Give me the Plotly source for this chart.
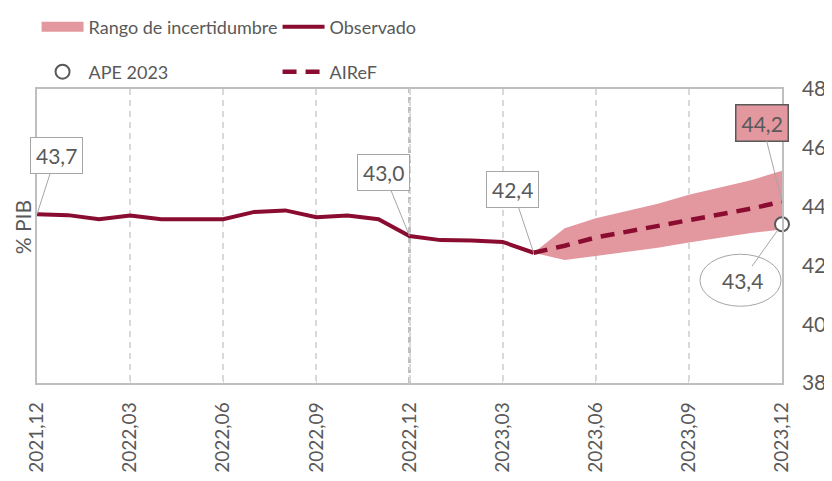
import plotly.graph_objects as go

months = ["2021,12", "2022,01", "2022,02", "2022,03", "2022,04", "2022,05", "2022,06",
          "2022,07", "2022,08", "2022,09", "2022,10", "2022,11", "2022,12",
          "2023,01", "2023,02", "2023,03", "2023,04", "2023,05", "2023,06",
          "2023,07", "2023,08", "2023,09", "2023,10", "2023,11", "2023,12"]
tick_months = ["2021,12", "2022,03", "2022,06", "2022,09", "2022,12",
               "2023,03", "2023,06", "2023,09", "2023,12"]

observado = [43.74, 43.71, 43.57, 43.70, 43.57, 43.57, 43.57, 43.82, 43.87, 43.64,
             43.70, 43.57, 43.00, 42.86, 42.85, 42.80, 42.43]
airef = [42.43, 42.67, 42.95, 43.15, 43.35, 43.52, 43.74, 43.93, 44.17]
banda_sup = [42.43, 43.26, 43.60, 43.85, 44.10, 44.40, 44.65, 44.90, 45.22]
banda_inf = [42.43, 42.18, 42.32, 42.45, 42.60, 42.78, 42.95, 43.10, 43.22]
ape_2023 = [43.4]

yticks = [38, 40, 42, 44, 46, 48]

obs_x = months[:len(observado)]
fc_x = months[len(observado) - 1:]

DARK = "#8A0C30"
PINK = "#E3979F"
GREY = "#595959"
FONT = "Lato"

fig = go.Figure()

fig.add_trace(go.Scatter(
    x=fc_x + fc_x[::-1], y=banda_sup + banda_inf[::-1],
    fill="toself", fillcolor=PINK, line=dict(width=0), mode="lines",
    name="Rango de incertidumbre", showlegend=False, hoverinfo="skip"))
# legend entry for the band (thicker swatch)
fig.add_trace(go.Scatter(
    x=[None], y=[None], mode="lines", line=dict(color=PINK, width=14),
    name="Rango de incertidumbre", legend="legend"))
fig.add_trace(go.Scatter(
    x=obs_x, y=observado, mode="lines", line=dict(color=DARK, width=4),
    name="Observado", legend="legend"))
fig.add_trace(go.Scatter(
    x=fc_x, y=airef, mode="lines",
    line=dict(color=DARK, width=4.5, dash="14px,9px"),
    name="AIReF", legend="legend2"))
fig.add_trace(go.Scatter(
    x=[months[-1]], y=ape_2023, mode="markers", cliponaxis=False,
    marker=dict(color="white", size=14, line=dict(color=GREY, width=2)),
    name="APE 2023", legend="legend2", legendrank=1))

def fmt(v):
    return f"{v:.1f}".replace(".", ",")

# data label callouts
callouts = [
    (months[0], observado[0], 19, -59, "white", "#A6A6A6"),
    (months[12], observado[12], -26, -64, "white", "#A6A6A6"),
    (months[16], observado[16], -21, -63, "white", "#A6A6A6"),
    (months[-1], airef[-1], -20, -79, PINK, GREY),
]
for x, y, ax, ay, bg, bc in callouts:
    fig.add_annotation(
        x=x, y=y, text=fmt(y),
        showarrow=True, arrowhead=0, arrowwidth=1, arrowcolor="#A6A6A6",
        ax=ax, ay=ay, standoff=0, bgcolor=bg, bordercolor=bc,
        borderwidth=1.5 if bg == PINK else 1, borderpad=5,
        font=dict(family=FONT, size=21, color=GREY))

# APE label in an ellipse
fig.add_shape(type="circle", xref="x", yref="y", xsizemode="pixel", ysizemode="pixel",
              xanchor=months[-1], yanchor=ape_2023[0],
              x0=-82, x1=-1, y0=-82, y1=-30,
              line=dict(color="#A6A6A6", width=1), fillcolor="white", layer="above")
fig.add_annotation(
    x=months[-1], y=ape_2023[0], text=fmt(ape_2023[0]), showarrow=True, arrowhead=0,
    arrowwidth=1, arrowcolor="#A6A6A6", ax=-40, ay=56, standoff=7,
    font=dict(family=FONT, size=21, color=GREY), bgcolor="rgba(0,0,0,0)")

# separator at 2022,12
fig.add_shape(type="line", xref="x", yref="paper", x0=months[12], x1=months[12],
              y0=0, y1=1, line=dict(color="#BFBFBF", width=3, dash="6px,4px"), layer="below")

# y axis title on the left
fig.add_annotation(xref="paper", yref="paper", x=-0.02, y=0.53, xanchor="center",
                   yanchor="middle", text="% PIB", textangle=-90, showarrow=False,
                   font=dict(family=FONT, size=21, color=GREY))

legend_common = dict(orientation="h", xanchor="left", yanchor="middle",
                     entrywidth=184, itemwidth=42,
                     font=dict(family=FONT, size=18, color=GREY),
                     traceorder="normal", bgcolor="rgba(0,0,0,0)")

# the page body adds an 8px margin around the figure, so it is drawn smaller
fig.update_layout(
    width=824, height=465,
    margin=dict(l=29, r=50, t=81, b=90, autoexpand=False),
    paper_bgcolor="white", plot_bgcolor="white",
    font=dict(family=FONT, size=20, color=GREY),
    legend=dict(x=-0.0006, y=1.211, **legend_common),
    legend2=dict(x=-0.0006, y=1.058, **legend_common),
    xaxis=dict(type="category", categoryorder="array", categoryarray=months,
               range=[0, len(months) - 1], tickmode="array", tickvals=tick_months,
               ticktext=tick_months, tickangle=-90, showgrid=True, gridcolor="#D9D9D9",
               griddash="6px,5px", gridwidth=1.5, showline=True, linecolor="#BFBFBF",
               linewidth=1.5, mirror=True, ticks="inside", ticklen=5, tickcolor="#D9D9D9",
               ticklabelstandoff=10, tickfont=dict(family=FONT, size=19, color=GREY),
               zeroline=False),
    yaxis=dict(side="right", range=[38, 48], tickvals=yticks, showgrid=False,
               showline=True, linecolor="#BFBFBF", linewidth=1.5, mirror=True,
               ticks="", ticklabelstandoff=14, zeroline=False,
               tickfont=dict(family=FONT, size=21, color=GREY)),
)

fig.write_html("out.html")
